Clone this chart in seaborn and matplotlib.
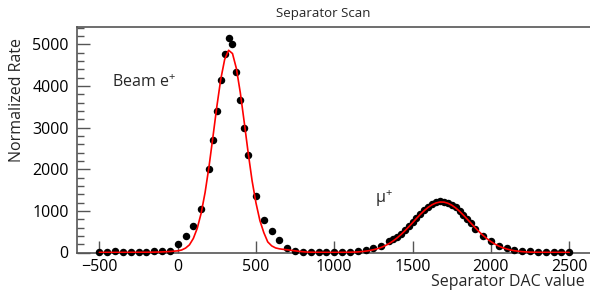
import matplotlib
matplotlib.use("Agg")
import matplotlib.pyplot as plt
from matplotlib.ticker import MultipleLocator
import seaborn as sns

# measured scan points (separator DAC setting vs normalized rate)
scan_dac = [-500, -450, -400, -350, -300, -250, -200, -150, -100, -50,
            0, 50, 100, 150, 200, 225, 250, 275, 300, 325, 350, 375, 400, 425, 450,
            500, 550, 600, 650, 700, 750, 800, 850, 900, 950, 1000, 1050, 1100,
            1150, 1200, 1250, 1300, 1350,
            1375, 1400, 1425, 1450, 1475, 1500, 1525, 1550, 1575, 1600, 1625,
            1650, 1675, 1700, 1725, 1750, 1775, 1800, 1825, 1850, 1875,
            1900, 1950, 2000, 2050, 2100, 2150, 2200, 2250, 2300, 2350, 2400,
            2450, 2500]
scan_rate = [20, 22, 25, 24, 22, 20, 22, 25, 28, 45,
             215, 392, 632, 1050, 2010, 2710, 3410, 4135, 4760, 5160, 5020, 4330, 3655, 2990, 2335,
             1355, 785, 510, 305, 120, 40, 12, 8, 8, 8, 8, 10, 12,
             31, 65, 108, 165, 275,
             315, 365, 445, 535, 630, 730, 835, 930, 1020, 1100, 1165,
             1205, 1228, 1225, 1198, 1150, 1085, 1000, 905, 805, 700,
             570, 400, 265, 168, 103, 62, 45, 25, 14, 10, 8,
             8, 8]

# fit curve
fit_dac = [-500, -400, -300, -200, -150, -100, -50,
           0, 25, 50, 75, 100, 125, 150, 175, 200, 225, 250, 275, 300, 325, 350,
           375, 400, 425, 450, 475, 500, 525, 550, 575, 600, 625, 650, 675, 700,
           725, 750, 775, 800, 825, 850,
           900, 950, 1000, 1050, 1100, 1150, 1200, 1225, 1250, 1275, 1300, 1325,
           1350, 1375, 1400, 1425, 1450, 1475, 1500, 1525, 1550, 1575, 1600,
           1625, 1650, 1675, 1700, 1725, 1750, 1775, 1800, 1825, 1850, 1875,
           1900, 1925, 1950, 1975, 2000, 2025, 2050, 2075, 2100, 2125, 2150,
           2200, 2250, 2300, 2400, 2500]
fit_rate = [3, 3, 4, 6, 9, 14, 24,
            40, 60, 105, 184, 338, 583, 947, 1443, 2065, 2777, 3508, 4163, 4641, 4861, 4782,
            4420, 3838, 3131, 2399, 1727, 1190, 767, 478, 255, 160, 110, 88, 75, 65,
            52, 40, 28, 18, 11, 7,
            4, 3, 3, 4, 7, 13, 32, 46, 66, 91, 123, 164,
            215, 276, 347, 428, 518, 615, 716, 819, 917, 1008, 1087,
            1149, 1192, 1213, 1211, 1185, 1138, 1072, 991, 898, 798, 696,
            595, 499, 411, 332, 263, 204, 155, 116, 85, 61, 43,
            20, 9, 5, 3, 2]

sns.set_style("ticks")
plt.rcParams['font.family'] = ['Open Sans', 'DejaVu Sans']
plt.rcParams['mathtext.fontset'] = 'custom'
plt.rcParams['mathtext.rm'] = 'Open Sans'
plt.rcParams['mathtext.it'] = 'Open Sans'

fig = plt.figure(figsize=(5.9, 2.91), dpi=100)
ax = fig.add_axes([77/590, 1 - 252.5/291, 513/590, 225.5/291])

sns.scatterplot(x=scan_dac, y=scan_rate, color="black", s=29, linewidth=0,
                clip_on=False, zorder=3, ax=ax)
sns.lineplot(x=fit_dac, y=fit_rate, color="red", linewidth=1.2,
             estimator=None, sort=False, zorder=4, ax=ax)

ax.set_xlim(-643, 2633)
ax.set_ylim(0, 5420)
ax.xaxis.set_major_locator(MultipleLocator(500))
ax.yaxis.set_major_locator(MultipleLocator(1000))
ax.yaxis.set_minor_locator(MultipleLocator(200))

# ROOT-like frame: ticks pointing inward
ax.tick_params(axis="both", which="major", direction="in", length=9, width=1,
               color="#555555", labelsize=11.5, labelcolor="black")
ax.tick_params(axis="x", pad=5)
ax.tick_params(axis="y", pad=6)
ax.tick_params(axis="y", which="minor", direction="in", length=5, width=1,
               color="#555555")
for side in ["left", "bottom", "top"]:
    ax.spines[side].set_color("#555555")
    ax.spines[side].set_linewidth(1.2)
ax.spines["right"].set_visible(False)

ax.text(-420, 4100, r"Beam e$^{\mathrm{+}}$", fontsize=11.5, va="center", ha="left")
ax.text(1260, 1310, "\u03bc$^{\\mathrm{+}}$", fontsize=11.5, va="center", ha="left")

fig.text(323/590, 1 - 13/291, "Separator Scan", ha="center", va="center", fontsize=9.5)
fig.text(17/590, 1 - 100/291, "Normalized Rate", rotation=90,
         ha="center", va="center", fontsize=11.5)
fig.text(585/590, 1 - 282/291, "Separator DAC value", ha="right", va="center",
         fontsize=11.5)

fig.savefig("out.png", dpi=100)
